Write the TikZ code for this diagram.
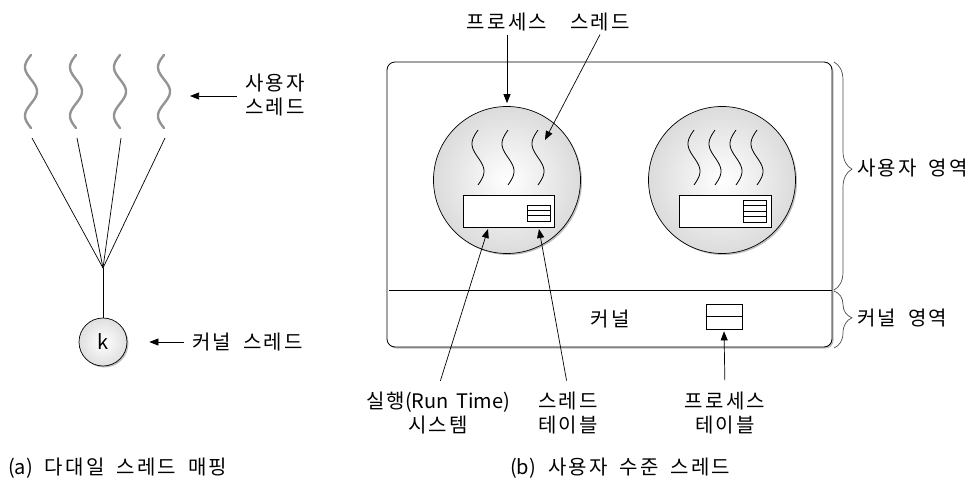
\documentclass[tikz,border=0pt]{standalone}
\usepackage{fontspec}
\setmainfont[LetterSpace=11, WordSpace=1.8]{Noto Sans CJK KR}
\newfontfamily\latinpart[WordSpace=1.6]{Noto Sans CJK KR}
\usetikzlibrary{arrows.meta,decorations.pathreplacing,shadows}
\begin{document}
\begin{tikzpicture}[x=1pt,y=-1pt,
  font=\fontsize{20}{24}\selectfont,
  arr/.style={-{Triangle[length=9pt,width=7pt]}, line width=0.7pt},
  thin line/.style={line width=0.7pt},
  shad/.style={drop shadow={shadow xshift=1.5pt, shadow yshift=-1.5pt, fill=gray!50, opacity=1}},
  proc/.style={circle, draw, line width=0.7pt, inner sep=0pt, minimum size=147pt,
               inner color=white, outer color=gray!28, shad},
  kcirc/.style={circle, draw, line width=0.7pt, inner sep=0pt, minimum size=48pt,
               inner color=white, outer color=gray!25, shad},
  bigbox/.style={draw, rounded corners=8pt, fill=white, line width=0.8pt,
               minimum width=445pt, minimum height=285pt, inner sep=0pt, shad},
  tbox/.style={draw, fill=white, line width=0.7pt, inner sep=0pt},
  uwave/.style={gray!80!black!70, line width=2.4pt, line cap=round},
  pwave/.style={black, line width=0.8pt},
  brc/.style={decorate, decoration={brace, amplitude=18pt, aspect=0.47}, line width=0.7pt, gray!60!black}
]
\useasboundingbox (0,0) rectangle (970,490);

% ---------- (a) many-to-one ----------
\foreach \xx/\n in {31/a,76/b,120/c,164/d}{
  \draw[uwave] plot[variable=\t, domain=0:540, samples=70, smooth]
     ({\xx - 6*sin(\t)}, {55 + \t/540*73});
  \coordinate (ut\n) at (\xx+1,138);
}
\coordinate (hub) at (103,268);
\foreach \n in {a,b,c,d}{ \draw[thin line] (ut\n) -- (hub); }
\node[kcirc] (k) at (103,342) {k};
\draw[thin line] (hub) -- (k.north);

\node[anchor=west, align=left, inner sep=2pt] (ulab) at (243,95) {사용자\\스레드};
\coordinate (utip) at (190,96);
\draw[arr, shorten <=6pt] (ulab.west |- utip) -- (utip);

\node[anchor=west, inner sep=2pt] (klab) at (190,342) {커널 스레드};
\draw[arr, shorten <=6pt, shorten >=22pt] (klab.west) -- (k.east);

\node[anchor=west, inner sep=0pt] (capa) at (8,468) {{\latinpart(a)} 다대일 스레드 매핑};

% ---------- (b) user-level threads ----------
\node[bigbox] (sys) at (609.5,204.5) {};
\coordinate (divl) at (389,290);
\coordinate (divr) at (832,290);
\draw[thin line] (divl) -- (divr);

% process 1
\node[proc] (p1) at (507,180) {};
\foreach \xx in {478,508,538}{
  \draw[pwave] plot[variable=\t, domain=0:360, samples=50, smooth]
     ({\xx - 6*sin(\t)}, {130 + \t/360*55});
}
\node[tbox, minimum width=91pt, minimum height=32pt] (rt1) at (508.5,211) {};
\node[tbox, minimum width=23pt, minimum height=16pt] (tt1) at (538.5,213) {};
\draw[thin line] (527,210.3) -- (550,210.3) (527,215.7) -- (550,215.7);

% process 2
\node[proc] (p2) at (722,180) {};
\foreach \xx in {694,715,736,757}{
  \draw[pwave] plot[variable=\t, domain=0:360, samples=50, smooth]
     ({\xx - 6*sin(\t)}, {130 + \t/360*55});
}
\node[tbox, minimum width=92pt, minimum height=32pt] (rt2) at (725,211) {};
\node[tbox, minimum width=23pt, minimum height=22pt] (tt2) at (754.5,211) {};
\draw[thin line] (743,205.5) -- (766,205.5) (743,211) -- (766,211) (743,216.5) -- (766,216.5);

% kernel
\node (ktext) at (610,319) {커널};
\node[tbox, minimum width=36pt, minimum height=25pt] (ptab) at (724,316.5) {};
\draw[thin line] (ptab.west) -- (ptab.east);

% top labels
\node (plab) at (507,22) {프로세스};
\node (tlab) at (600,22) {스레드};
\draw[arr, shorten >=3pt] (plab.south) -- (p1.north);
\coordinate (thtip) at (545,140);
\draw[arr] (tlab.south) -- (thtip);

% bottom labels
\node[align=center] (rtlab) at (438,413) {실행{\latinpart(Run Time)}\\시스템};
\node[align=center] (ttlab) at (568,413) {스레드\\테이블};
\node[align=center] (ptlab) at (725,413) {프로세스\\테이블};
\coordinate (rttip) at (488,229);
\coordinate (tttip) at (539,229);
\draw[arr, shorten <=8pt] (rtlab.north) -- (rttip);
\draw[arr, shorten <=8pt] (ttlab.north) -- (tttip);
\draw[arr, shorten <=8pt, shorten >=2pt] (ptlab.north) -- (ptab.south);

% braces
\coordinate (b1t) at (834,62);
\coordinate (b1b) at (834,290);
\coordinate (b2t) at (834,291);
\coordinate (b2b) at (834,348);
\draw[brc] (b1t) -- (b1b);
\draw[brc] (b2t) -- (b2b);
\node[anchor=west, inner sep=2pt] (uarea) at (855,168) {사용자 영역};
\node[anchor=west, inner sep=2pt] (karea) at (855,318) {커널 영역};

\node[anchor=west, inner sep=0pt] (capb) at (510,468) {{\latinpart(b)} 사용자 수준 스레드};
\end{tikzpicture}
\end{document}
